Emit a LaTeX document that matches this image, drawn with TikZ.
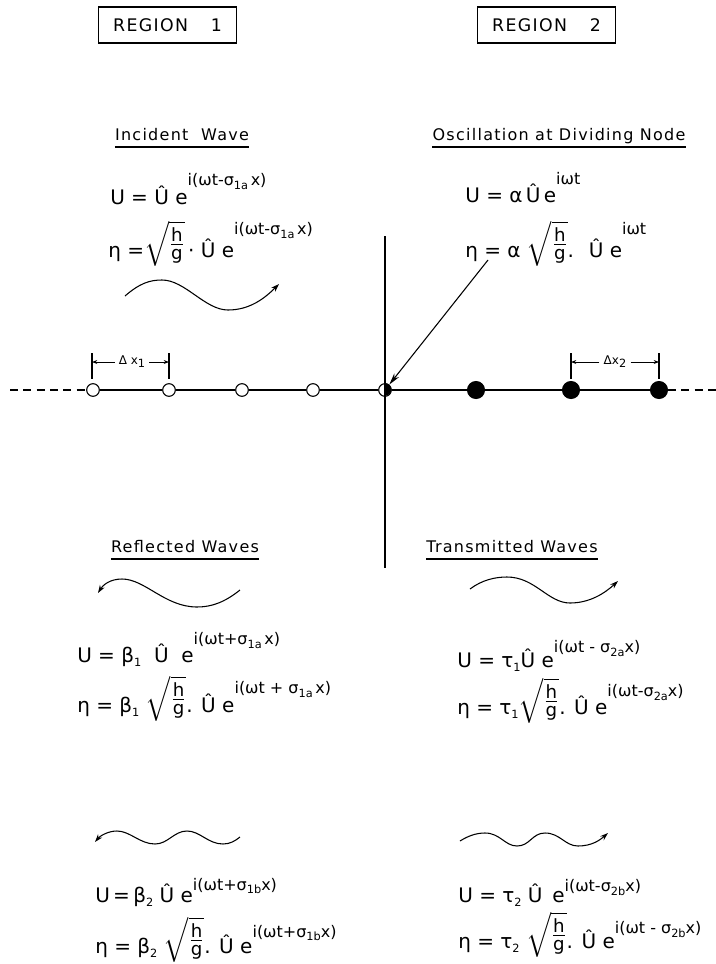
\documentclass[tikz,border=0pt]{standalone}
\usepackage{fontspec}
\usepackage{amsmath}
\usepackage{graphicx}
\setmainfont{DejaVu Sans}
\newfontfamily\lettering[LetterSpace=8]{DejaVu Sans}
\usetikzlibrary{arrows.meta,calc}
\newcommand{\hiup}[2][10pt]{\raisebox{#1}{\fontsize{12}{13}\selectfont #2}}
\newcommand{\lodn}[1]{\raisebox{-0.45ex}{\fontsize{8.5}{9}\selectfont #1}}
\newcommand{\hg}{\raisebox{4.5pt}{\scalebox{1.3}{$\sqrt{\frac{\text{h}}{\text{g}}}$}}}
\tikzset{
  ln/.style={line width=0.8pt},
  regbox/.style={draw, line width=0.8pt, minimum width=104pt, minimum height=27pt, inner sep=0pt, font=\lettering\fontsize{13}{15}\selectfont},
  ttl/.style={anchor=base, inner sep=0pt, font=\lettering\fontsize{12}{14}\selectfont},
  uline/.style={line width=0.9pt},
  eq/.style={anchor=base west, inner sep=0pt, font=\fontsize{15}{17}\selectfont},
  opendot/.style={circle, draw, line width=0.8pt, fill=white, minimum size=9.5pt, inner sep=0pt},
  fulldot/.style={circle, draw, line width=0.8pt, fill=black, minimum size=12.75pt, inner sep=0pt},
  dimlbl/.style={inner sep=0pt, font=\fontsize{9}{10}\selectfont},
  wave/.style={line width=0.8pt, -{Stealth[length=6pt,width=4pt]}},
  dimarr/.style={line width=0.6pt, -{Stealth[length=4pt,width=3pt]}},
  ptrarr/.style={line width=0.8pt, -{Stealth[length=9pt,width=4.5pt]}}
}
\begin{document}
\begin{tikzpicture}[x=0.75pt,y=-0.75pt]
\useasboundingbox (0,0) rectangle (716,964);

% region boxes
\node[regbox] (r1) at (167.5,25) {REGION\hspace{17pt}1};
\node[regbox] (r2) at (546.5,25) {REGION\hspace{17pt}2};

% titles
\node[ttl] (tIW) at (182,140) {Incident\ \ Wave};
\node[ttl] (tOsc) at (559,140) {Oscillation at Dividing Node};
\node[ttl] (tRef) at (185,552) {Reflected Waves};
\node[ttl] (tTra) at (512,552) {Transmitted Waves};
\foreach \t in {tIW,tOsc,tRef,tTra}{
  \draw[uline] ($(\t.base west)+(0,7)$) -- ($(\t.base east)+(0,7)$);
}

% equations
\node[eq] (eTLu) at (110,204) {U = Û e\hiup[14pt]{i(ωt-σ\lodn{1a}\,x)}};
\node[eq] (eTLh) at (108,257) {η =\hg\,·\ Û e\hiup[17pt]{i(ωt-σ\lodn{1a}\,x)}};
\node[eq] (eTRu) at (465,202) {U = α\,Û\,e\hiup[13pt]{iωt}};
\node[eq] (eTRh) at (465,257) {η = α\ \hg. \ Û\ e\hiup[17pt]{iωt}};
\node[eq] (eRu) at (77,662) {U = β\lodn{1}\ \ Û\ \ e\hiup[13pt]{i(ωt+σ\lodn{1a}\,x)}};
\node[eq] (eRh) at (77,712) {η = β\lodn{1}\ \hg . Û e\hiup[14pt]{i(ωt + σ\lodn{1a}\,x)}};
\node[eq] (eTu) at (457,667) {U = τ\lodn{1}Û e\hiup[11pt]{i(ωt - σ\lodn{2a}x)}};
\node[eq] (eTh) at (457,714) {η = τ\lodn{1}\hg. Û e\hiup[13pt]{i(ωt-σ\lodn{2a}x)}};
\node[eq] (eBLu) at (95,902) {U\,=\,β\lodn{2} Û e\hiup[9pt]{i(ωt+σ\lodn{1b}x)}};
\node[eq] (eBLh) at (95,953) {η = β\lodn{2} \hg. Û\ e\hiup[12pt]{i(ωt+σ\lodn{1b}x)}};
\node[eq] (eBRu) at (458,902) {U = τ\lodn{2} Û\ \,e\hiup[8pt]{i(ωt-σ\lodn{2b}x)}};
\node[eq] (eBRh) at (458,948) {η = τ\lodn{2} \hg. Û e\hiup[11pt]{i(ωt - σ\lodn{2b}x)}};

% waves
\draw[wave] (125,296) .. controls (140,283) and (150,280) .. (162,280)
  .. controls (185,280) and (205,310) .. (228,310)
  .. controls (250,310) and (265,298) .. (279,284);
\draw[wave] (240,590) .. controls (225,602) and (212,607) .. (197,607)
  .. controls (165,607) and (145,579) .. (122,579)
  .. controls (110,579) and (103,585) .. (98,593);
\draw[wave] (470,589) .. controls (482,580) and (495,577) .. (507,577)
  .. controls (535,577) and (548,603) .. (570,603)
  .. controls (590,603) and (605,593) .. (618,581);
\draw[wave] (240,837) .. controls (235,841) and (230,844) .. (223,844)
  .. controls (208,844) and (200,831) .. (187,831)
  .. controls (174,831) and (168,844) .. (155,844)
  .. controls (140,844) and (130,831) .. (117,831)
  .. controls (108,831) and (100,836) .. (95,842);
\draw[wave] (460,841) .. controls (468,836) and (476,833) .. (485,833)
  .. controls (500,833) and (505,846) .. (517,846)
  .. controls (530,846) and (532,833) .. (545,833)
  .. controls (560,833) and (565,846) .. (578,846)
  .. controls (592,846) and (600,840) .. (608,833);

% axis and nodes
\coordinate (axL) at (10,390);
\coordinate (axR) at (716,390);
\node[opendot] (o1) at (93,390) {};
\node[opendot] (o2) at (169,390) {};
\node[opendot] (o3) at (242,390) {};
\node[opendot] (o4) at (313,390) {};
\node[opendot] (h5) at (385,390) {};
\fill (h5.north) arc[start angle=90, end angle=-90, radius=4.75pt] -- cycle;
\node[fulldot] (f6) at (476,390) {};
\node[fulldot] (f7) at (571,390) {};
\node[fulldot] (f8) at (659,390) {};
\draw[ln, dash pattern=on 6pt off 4pt] (axL) -- (o1);
\draw[ln] (o1) -- (o2) -- (o3) -- (o4) -- (h5) -- (f6) -- (f7) -- (f8);
\draw[ln, dash pattern=on 6pt off 4pt] (f8) -- (axR);

% vertical divider
\coordinate (vTop) at (385,236);
\coordinate (vBot) at (385,568);
\draw[ln] (vTop) -- (vBot);

% pointer arrow
\coordinate (ptr) at (488,260);
\draw[ptrarr] (ptr) -- (h5);

% dimension marks
\coordinate (k1t) at (92,353); \coordinate (k1b) at (92,379);
\coordinate (k2t) at (169,353); \coordinate (k2b) at (169,379);
\coordinate (k3t) at (571,353); \coordinate (k3b) at (571,379);
\coordinate (k4t) at (659,353); \coordinate (k4b) at (659,379);
\draw[ln] (k1t) -- (k1b); \draw[ln] (k2t) -- (k2b);
\draw[ln] (k3t) -- (k3b); \draw[ln] (k4t) -- (k4b);
\node[dimlbl] (dx1) at (132,362) {Δ x\lodn{1}};
\node[dimlbl] (dx2) at (615,362) {Δx\lodn{2}};
\draw[dimarr] ($(dx1.west)+(-4,0)$) -- (k1t |- dx1);
\draw[dimarr] ($(dx1.east)+(4,0)$) -- (k2t |- dx1);
\draw[dimarr] ($(dx2.west)+(-4,0)$) -- (k3t |- dx2);
\draw[dimarr] ($(dx2.east)+(4,0)$) -- (k4t |- dx2);
\end{tikzpicture}
\end{document}
